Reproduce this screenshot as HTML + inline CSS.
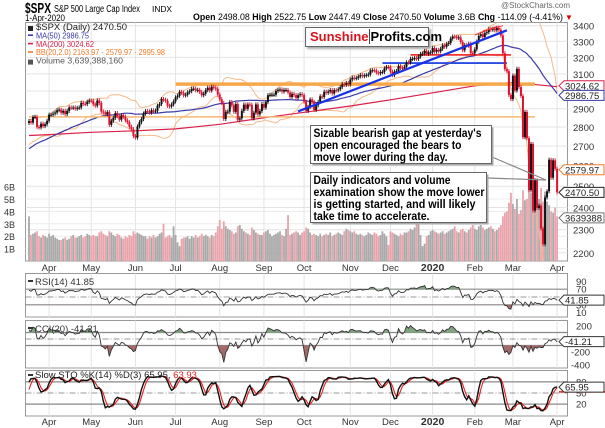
<!DOCTYPE html>
<html><head><meta charset="utf-8"><style>
body{margin:0;background:#fff;font-family:"Liberation Sans",sans-serif;}
#wrap{position:relative;width:605px;height:428px;overflow:hidden;background:#fff;}
svg text{font-family:"Liberation Sans",sans-serif;}
.box{position:absolute;background:#fff;border:1px solid #666;box-shadow:2px 2px 2px #aaa;font:bold 13px "Liberation Sans",sans-serif;line-height:14px;padding:2px 4px;color:#000;}
</style></head><body>
<div id="wrap">
<svg id="svg" width="605" height="428"></svg>
<div class="box" style="left:305px;top:27px;width:114px;height:14px;"><span style="color:#d8141c">Sunshine</span><span style="border-left:1px solid #444;padding-left:1px">Profits.com</span></div>
</div>
<script>
const earlyCloses=[2510,2486,2507,2447,2532,2549,2575,2585,2596,2582,2610,2617,2596,2616,2636,2670,2633,2638,2643,2664,2644,2640,2682,2704,2681,2707,2706,2731,2706,2725,2732,2710,2708,2737,2737,2753,2745,2775,2780,2793,2794,2797,2784,2792,2810,2790,2772,2748,2783,2822];
const closes=[2832,2824,2854,2855,2800,2798,2818,2805,2815,2834,
2867,2867,2873,2879,2892,2895,2878,2888,2870,2888,2907,2905,2907,2900,2905,2907,2933,2927,2926,2939,2946,
2945,2924,2917,2946,2932,2884,2879,2870,2881,2812,2834,2850,2876,2859,2840,2864,2856,2836,2826,2802,2788,2752,
2744,2803,2826,2843,2873,2886,2885,2879,2891,2886,2889,2917,2926,2954,2950,2945,2917,2913,2924,2941,
2964,2973,2995,2990,2975,2979,2993,2999,3013,3014,3004,3007,2995,2976,2985,3005,3019,3003,3025,3020,3013,2980,
2953,2932,2844,2881,2884,2938,2919,2883,2926,2840,2847,2888,2923,2900,2924,2922,2847,2878,2924,2869,2887,2926,
2906,2937,2976,2978,2979,2979,3000,3007,3009,2997,3006,3006,2992,2966,2984,2977,2961,2976,2982,2977,
2940,2888,2910,2952,2938,2893,2919,2938,2970,2966,2996,2990,2997,3006,2986,3005,3004,3010,3023,3039,3036,3047,3038,
3067,3078,3074,3076,3085,3093,3087,3091,3094,3097,3120,3122,3120,3108,3104,3110,3111,3133,3141,3140,
3113,3093,3113,3117,3146,3136,3133,3142,3169,3168,3191,3192,3195,3191,3205,3221,3224,3240,3221,3231,3231,
3258,3235,3246,3237,3253,3275,3266,3283,3289,3317,3330,3329,3321,3325,3295,3244,3276,3273,3284,3226,3225,
3249,3298,3334,3345,3327,3352,3358,3379,3374,3380,3370,3386,3373,3337,3225,3128,3116,2978,2954,
3090,3003,3130,3023,2972,2746,2882,2741,2481,2711,2386,2529,2398,2409,2305,2237,2447,2476,2630,2541,2627,2585,
2470.5];
const volumes=[3.6,2.1,2.2,2.3,2.4,2.0,1.9,2.1,2.0,1.9,
2.2,2.0,2.1,1.9,1.8,1.7,1.7,1.8,1.9,1.7,1.8,2.0,2.1,1.9,1.9,2.0,2.1,1.9,2.0,2.2,2.1,
2.0,2.1,2.0,2.0,2.3,2.4,2.2,2.1,2.0,2.4,2.3,2.1,2.0,2.2,2.1,1.9,1.8,2.0,1.9,2.1,2.0,2.4,
2.2,2.3,2.2,2.1,2.0,2.0,1.8,2.0,1.9,2.1,1.9,2.0,2.2,2.3,3.0,1.9,2.0,2.1,1.9,2.8,
2.1,1.5,1.2,1.8,1.9,1.9,2.0,1.8,2.0,1.9,2.1,1.9,2.0,2.2,2.0,2.1,2.0,1.9,2.1,2.0,2.3,2.8,
3.3,2.6,3.2,2.8,2.6,2.5,2.4,2.2,2.3,2.8,2.9,2.6,2.4,2.3,2.2,2.1,2.7,2.5,2.3,2.2,2.1,2.1,
2.3,2.4,2.5,2.2,2.0,2.1,2.2,2.3,2.4,2.1,2.0,2.6,3.7,2.1,2.2,2.3,2.4,2.3,2.1,2.3,
2.4,2.7,2.6,2.3,2.1,2.2,2.1,2.0,2.2,2.0,2.1,2.2,2.1,2.3,2.0,2.1,2.2,2.3,2.2,2.1,2.4,2.6,2.5,
2.4,2.3,2.4,2.2,2.1,2.2,2.1,2.0,2.1,2.3,2.2,2.1,2.3,2.2,2.0,2.1,2.4,2.2,2.0,1.3,
2.4,2.3,2.2,2.1,2.0,2.2,2.1,2.3,2.3,2.4,2.6,2.5,2.7,3.2,4.3,2.1,1.2,1.4,2.0,2.1,2.4,
2.5,2.4,2.3,2.2,2.3,2.4,2.2,2.3,2.4,2.5,2.6,2.8,2.4,2.3,2.5,2.6,2.4,2.3,2.5,2.7,2.9,
2.6,2.5,2.8,2.9,2.7,2.5,2.6,2.7,2.8,2.6,2.4,2.5,2.7,2.9,3.6,3.9,4.0,4.7,5.5,
4.6,4.2,5.0,3.8,4.1,5.7,4.9,5.0,6.6,5.5,5.5,5.4,5.2,5.0,5.9,4.8,5.6,4.8,4.5,4.0,3.9,4.3,
3.6];
const monthIdx=[10,31,53,73,95,117,137,160,180,201,222,241,263];
const monthLabels=['Apr','May','Jun','Jul','Aug','Sep','Oct','Nov','Dec','2020','Feb','Mar','Apr'];
const ma200Idx=[0,10,31,53,73,95,117,137,160,180,201,222,241,263];
const ma200Vals=[2755,2760,2772,2780,2790,2815,2850,2880,2915,2950,2990,3030,3050,3025];
const priceTicks=[3400,3300,3200,3100,3000,2900,2800,2700,2600,2500,2400,2300,2200];
const volTicks=[1,2,3,4,5,6];
const blueTrend=[134,2885,238,3370];
const redHLine=[190,3215,240,3215];
const blueHLine=[176,3165,238,3165];
const orangeHLine=[73,3040,252,3040];
const orangeHLine2=[0,2855,252,2855];
const redChannel=[[222,3340,233,3395],[226,3365,236,3400]];

const svg=document.getElementById('svg');
const NS='http://www.w3.org/2000/svg';
function mk(tag,a,parent){const e=document.createElementNS(NS,tag);for(const k in a)e.setAttribute(k,a[k]);(parent||svg).appendChild(e);return e;}
const L=25.5,R=567.5;
const xS=i=>29+2.008*i;
const yP=v=>25.7+522*Math.log(3400/v);
const yV=b=>261-b*12.4;
const yR=v=>297-(v-50)*0.39;
const yC=v=>339-v*0.065;
const yS=v=>393-(v-50)*0.37;
const all=earlyCloses.concat(closes);const E=earlyCloses.length;const N=closes.length;

const defs=mk('defs',{});
function clip(id,x,y,w,h){const c=mk('clipPath',{id:id},defs);mk('rect',{x:x,y:y,width:w,height:h},c);}
clip('cMain',L,22.5,R-L,238.5);

let t;
t=mk('text',{x:25,y:13,'font-size':15,'font-weight':'bold',textLength:26,lengthAdjust:'spacingAndGlyphs'});t.textContent='$SPX';

t=mk('text',{x:54,y:12,'font-size':10,textLength:86,lengthAdjust:'spacingAndGlyphs'});t.textContent='S&P 500 Large Cap Index';

t=mk('text',{x:152,y:12,'font-size':8,textLength:20,lengthAdjust:'spacingAndGlyphs'});t.textContent='INDX';

t=mk('text',{x:25,y:21,'font-size':9.5,textLength:40,lengthAdjust:'spacingAndGlyphs'});t.textContent='1-Apr-2020';

t=mk('text',{x:570,y:8,'font-size':8,fill:'#666','text-anchor':'end'});t.textContent='@StockCharts.com';

t=mk('text',{x:193,y:20,'font-size':9.5,textLength:370,lengthAdjust:'spacingAndGlyphs'});
t.innerHTML='<tspan font-weight="bold">Open</tspan> 2498.08 <tspan font-weight="bold">High</tspan> 2522.75 <tspan font-weight="bold">Low</tspan> 2447.49 <tspan font-weight="bold">Close</tspan> 2470.50 <tspan font-weight="bold">Volume</tspan> 3.6B <tspan font-weight="bold">Chg</tspan> -114.09 (-4.41%)';

t=mk('text',{x:565,y:20,'font-size':8,fill:'#d00'});t.textContent='▼';


const panels=[['main-panel',22.5,261],['rsi-panel',273.5,317],['cci-panel',320.5,368],['sto-panel',370.5,416]];
panels.forEach(p=>{const r=mk('rect',{x:L,y:p[1],width:R-L,height:p[2]-p[1],fill:'#fff',stroke:'#999','stroke-width':1});
});
panels.forEach(p=>{monthIdx.forEach(i=>{const g=mk('line',{x1:xS(i),x2:xS(i),y1:p[1],y2:p[2],stroke:'#e4e4e4'});
});});
priceTicks.forEach(v=>{const g=mk('line',{x1:L,x2:R,y1:yP(v),y2:yP(v),stroke:'#e4e4e4'});

const tx=mk('text',{x:573,y:yP(v)+4,'font-size':9.5,fill:'#333'});tx.textContent=v;
});
volTicks.forEach(b=>{const g=mk('line',{x1:L,x2:R,y1:yV(b),y2:yV(b),stroke:'#ececec'});

const tx=mk('text',{x:4,y:yV(b)+4,'font-size':9,fill:'#333'});tx.textContent=b+'B';
});
[267,421].forEach(yy=>monthIdx.forEach((i,k)=>{const tx=mk('text',{x:xS(i),y:yy+4,'font-size':monthLabels[k]==='2020'?10.5:9.5,'font-weight':monthLabels[k]==='2020'?'bold':'normal','text-anchor':'middle',fill:'#333'});
tx.textContent=monthLabels[k];}));

const gMain=mk('g',{'clip-path':'url(#cMain)'});

for(let i=0;i<N;i++){const prev=i?closes[i-1]:all[E-1];const up=closes[i]>=prev;
const b=mk('rect',{x:xS(i)-0.9,y:yV(volumes[i]),width:1.8,height:261-yV(volumes[i]),fill:up?'#a9a9a9':'#e9a3ab'},gMain);
}
function sma(arr,n,j){let s=0;for(let k=j-n+1;k<=j;k++)s+=arr[Math.max(k,0)];return s/n;}
const ma50=[],bbU=[],bbL=[];
for(let i=0;i<N;i++){const j=i+E;ma50.push(sma(all,50,j));const m=sma(all,20,j);let v=0;for(let k=j-19;k<=j;k++)v+=(all[k]-m)**2;const sd=Math.sqrt(v/20);bbU.push(m+2*sd);bbL.push(m-2*sd);}
function pathOf(idx,vals,yf){return vals.map((v,k)=>(k?'L':'M')+xS(idx[k]).toFixed(1)+','+yf(v).toFixed(1)).join('');}
const seq=closes.map((c,i)=>i);
let p;
p=mk('path',{d:pathOf(seq,bbU,yP),fill:'none',stroke:'#f5b98a','stroke-width':1},gMain);
p=mk('path',{d:pathOf(seq,bbL,yP),fill:'none',stroke:'#f5b98a','stroke-width':1},gMain);
p=mk('path',{d:pathOf(ma200Idx,ma200Vals,yP),fill:'none',stroke:'#d9204a','stroke-width':1.2},gMain);
p=mk('path',{d:pathOf(seq,ma50,yP),fill:'none',stroke:'#3a3aa8','stroke-width':1.2},gMain);
function seg(a,col,w,name){const l=mk('line',{x1:xS(a[0]),y1:yP(a[1]),x2:xS(a[2]),y2:yP(a[3]),stroke:col,'stroke-width':w},gMain);}
seg(orangeHLine,'#f7a84a',3.5,'resistance-line-orange');
seg(orangeHLine2,'#f7b872',1.5,'support-line-orange');
seg(blueHLine,'#2a4de0',1.8,'support-line-blue');
seg(redHLine,'#ee3030',1.8,'support-line-red');
for(let i=0;i<N;i++){const o=i?closes[i-1]:all[E-1],c=closes[i];const up=c>=o;const col=up?'#111':'#e01030';
const hi=Math.max(o,c)*1.004,lo=Math.min(o,c)*0.996;
const w=mk('line',{x1:xS(i),x2:xS(i),y1:yP(hi),y2:yP(lo),stroke:col,'stroke-width':0.9},gMain);

const yt=yP(Math.max(o,c)),yb=yP(Math.min(o,c));
const r=mk('rect',{x:xS(i)-1,y:yt,width:2,height:Math.max(yb-yt,1),fill:col},gMain);
}
seg(blueTrend,'#1a2fe8',2.2,'trendline-blue');
redChannel.forEach(a=>seg(a,'#ee3030',1,'channel-line-red'));
[[492,157,546,180],[487,178,546,180]].forEach(a=>{const l=mk('line',{x1:a[0],y1:a[1],x2:a[2],y2:a[3],stroke:'#888','stroke-width':1.2});});

// callout boxes
function callout(x,y,w,h,lines,name){const g=mk('g',{});
const sh=mk('rect',{x:x+2,y:y+2,width:w,height:h,fill:'#aaa'},g);
const bx=mk('rect',{x:x,y:y,width:w,height:h,fill:'#fff',stroke:'#666'},g);
lines.forEach(l=>{const tx=mk('text',{x:x+3,y:l[1],'font-size':11.5,'font-weight':'bold',textLength:l[2],lengthAdjust:'spacingAndGlyphs'},g);tx.textContent=l[0];});}
callout(310.5,125.5,181,38,[["Sizable bearish gap at yesterday's",137,168],["open encouraged the bears to",149,148],["move lower during the day.",161,134]],'annotation-gap');
callout(310.5,172.5,176,50,[["Daily indicators and volume",184,137],["examination show the move lower",196,171],["is getting started, and will likely",208,162],["take time to accelerate.",220,116]],'annotation-indicators');

const leg=[['$SPX (Daily) 2470.50','#222',91],['MA(50) 2986.75','#3a3aa8',53],['MA(200) 3024.62','#d9204a',58],['BB(20,2.0) 2163.97 - 2579.97 - 2995.98','#f07a2a',129],['Volume 3,639,388,160','#555',87]];
leg.forEach((l,k)=>{const yy=30+k*8.4;const sw=mk('rect',{x:28,y:yy-4,width:5,height:k==0||k==4?5:1.6,fill:l[1]});
const tx=mk('text',{x:36,y:yy,'font-size':k==0?9.5:8.2,fill:l[1],'font-family':k==0?'Liberation Mono':'Liberation Sans',textLength:l[2],lengthAdjust:'spacingAndGlyphs'});tx.textContent=l[0];});

function tag(y,txt,col,name,fill){const x=559;const g=mk('polygon',{points:`${x},${y} ${x+5},${y-5} 604,${y-5} 604,${y+5} ${x+5},${y+5}`,fill:fill||'#fff',stroke:col,'stroke-width':1});

const tx=mk('text',{x:565,y:y+3.5,'font-size':9.5,fill:'#222'});tx.textContent=txt;}
tag(yP(3024.62)-1,'3024.62','#d9204a','ma200-value-tag');
tag(yP(2986.75)+2,'2986.75','#3a3aa8','ma50-value-tag');
tag(yP(2579.97),'2579.97','#f07a2a','bb-upper-value-tag');
tag(yP(2470.5),'2470.50','#222','close-value-tag');
tag(yV(3.64)+2,'3639388','#777','volume-value-tag');

const rsi=[];{let ag=0,al=0;for(let j=1;j<=14;j++){const d=all[j]-all[j-1];ag+=Math.max(d,0);al+=Math.max(-d,0);}ag/=14;al/=14;
for(let j=15;j<all.length;j++){const d=all[j]-all[j-1];ag=(ag*13+Math.max(d,0))/14;al=(al*13+Math.max(-d,0))/14;if(j>=E)rsi.push(100-100/(1+ag/(al||1e-9)));}}
const cci=[];for(let i=0;i<N;i++){const j=i+E;const m=sma(all,20,j);let md=0;for(let k=j-19;k<=j;k++)md+=Math.abs(all[k]-m);md/=20;cci.push((all[j]-m)/(0.015*md));}
const fast=[];for(let j=13;j<all.length;j++){let h=-1e9,l=1e9;for(let k=j-13;k<=j;k++){h=Math.max(h,all[k]*1.003);l=Math.min(l,all[k]*0.997);}fast[j]=100*(all[j]-l)/(h-l);}
const kArr=[],dArr=[];const kAll=[];for(let j=15;j<all.length;j++)kAll[j]=(fast[j]+fast[j-1]+fast[j-2])/3;
for(let i=0;i<N;i++){const j=i+E;kArr.push(kAll[j]);dArr.push((kAll[j]+kAll[j-1]+kAll[j-2])/3);}

function refLine(y,dash,name){const l=mk('line',{x1:L,x2:R,y1:y,y2:y,stroke:dash?'#777':'#888','stroke-width':dash?0.8:1.2,'stroke-dasharray':dash?'6,2,1,2':'none'});}
function fillArea(vals,yf,base,above,col,name,cid,py0,py1){
 clip(cid,L,above?py0:yf(base),R-L,above?yf(base)-py0:py1-yf(base));
 const d=pathOf(seq,vals,yf)+`L${xS(N-1)},${yf(base)}L${xS(0)},${yf(base)}Z`;
 const a=mk('path',{d:d,fill:col,'clip-path':`url(#${cid})`});}
function axLabel(x,y,txt,name){const tx=mk('text',{x:x,y:y,'font-size':9.5,fill:'#333'});tx.textContent=txt;}
refLine(yR(70),0,'rsi-overbought-line');refLine(yR(30),0,'rsi-oversold-line');refLine(yR(50),1,'rsi-midline');
fillArea(rsi,yR,70,true,'#7fa47f','rsi-overbought-fill','cR1',273.5,317);
fillArea(rsi,yR,30,false,'#a46a6a','rsi-oversold-fill','cR2',273.5,317);
p=mk('path',{d:pathOf(seq,rsi,yR),fill:'none',stroke:'#333','stroke-width':0.9});
[90,70,30,10].forEach(v=>axLabel(576,yR(v)+3.5,v,'rsi-tick-label'));
axLabel(35,285,'RSI(14) 41.85','rsi-title');
refLine(yC(100),0,'cci-upper-line');refLine(yC(-100),0,'cci-lower-line');refLine(yC(0),1,'cci-zero-line');
fillArea(cci,yC,100,true,'#7fa47f','cci-positive-fill','cC1',320.5,368);
fillArea(cci,yC,-100,false,'#a46a6a','cci-negative-fill','cC2',320.5,368);
p=mk('path',{d:pathOf(seq,cci,yC),fill:'none',stroke:'#333','stroke-width':0.9});
[200,-200,-400].forEach(v=>axLabel(v<0?571:576,yC(v)+3.5,v,'cci-tick-label'));
axLabel(35,332,'CCI(20) -41.21','cci-title');
refLine(yS(80),0,'sto-upper-line');refLine(yS(20),0,'sto-lower-line');refLine(yS(50),1,'sto-midline');
clip('cS',L,370.5,R-L,45.5);
p=mk('path',{d:pathOf(seq,dArr,yS),fill:'none',stroke:'#e82020','stroke-width':1.1,'clip-path':'url(#cS)'});
p=mk('path',{d:pathOf(seq,kArr,yS),fill:'none',stroke:'#111','stroke-width':1.4,'clip-path':'url(#cS)'});
[80,50,20].forEach(v=>axLabel(576,yS(v)+3.5,v,'sto-tick-label'));
t=mk('text',{x:35,y:378,'font-size':9.5,fill:'#222'});t.innerHTML='Slow STO %K(14) %D(3) 65.95, <tspan fill="#e82020">63.93</tspan>';

[[281],[328],[375]].forEach(a=>{const r=mk('rect',{x:28,y:a[0]-1,width:5,height:2,fill:'#333'});});
tag(yR(41.85),'41.85','#333','rsi-value-tag');
tag(yC(-41.21),'-41.21','#333','cci-value-tag');
const rl=mk('line',{x1:559,x2:605,y1:yS(63.93)+4,y2:yS(63.93)+4,stroke:'#e82020','stroke-width':1.5});
tag(yS(65.95),'65.95','#333','sto-value-tag');
</script>
</body></html>
